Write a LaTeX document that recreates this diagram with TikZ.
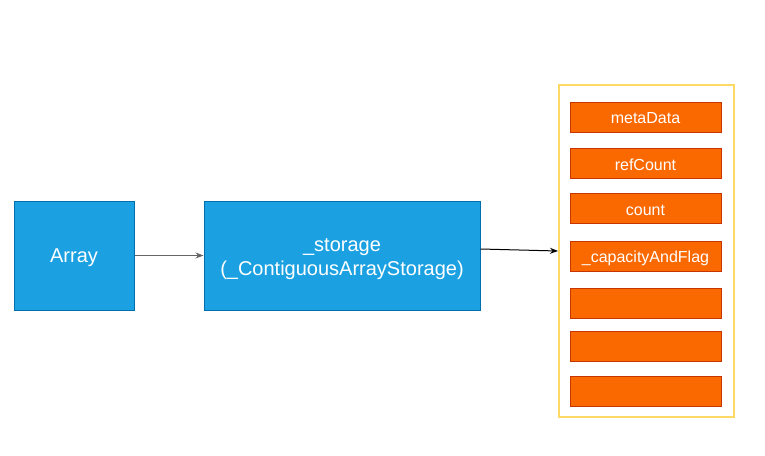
\documentclass[tikz,border=0pt]{standalone}
\usepackage{fontspec}
\setmainfont{Liberation Sans}
\usetikzlibrary{arrows.meta}

\definecolor{boxblue}{HTML}{1BA1E2}
\definecolor{lineblue}{HTML}{006EAF}
\definecolor{boxorange}{HTML}{FA6800}
\definecolor{lineorange}{HTML}{C73500}
\definecolor{frameyellow}{HTML}{FFD966}

\begin{document}
\begin{tikzpicture}[x=1pt,y=-1pt,
    bluebox/.style={draw=lineblue, fill=boxblue, text=white, line width=1pt,
        font=\fontsize{20}{23.5}\selectfont, align=center, inner sep=0pt},
    field/.style={draw=lineorange, fill=boxorange, text=white, line width=1pt,
        minimum width=151pt, minimum height=30pt, inner sep=0pt,
        text height=13pt, text depth=0pt, font=\fontsize{16}{18}\selectfont},
    link/.style={-{Stealth[length=8pt,width=6pt]}, line width=1pt}]
    \useasboundingbox (0,0) rectangle (765,455);
    \node[bluebox, minimum width=120pt, minimum height=109pt, text height=18.5pt] (array) at (74,255.5) {Array};
    \node[bluebox, minimum width=276pt, minimum height=109pt] (storage) at (342,255.5) {\rule{0pt}{20pt}\_storage\\(\_ContiguousArrayStorage)};
    \node[draw=frameyellow, line width=2pt, minimum width=175pt, minimum height=332pt] (frame) at (646.5,251) {};
    \node[field] (metadata) at (645.5,117) {metaData};
    \node[field] (refcount) at (645.5,163.5) {refCount};
    \node[field] (count) at (645.5,208.5) {count};
    \node[field] (capflag) at (645.5,256) {\_capacityAndFlag};
    \node[field] (slotA) at (645.5,303.5) {};
    \node[field] (slotB) at (645.5,346) {};
    \node[field] (slotC) at (645.5,391) {};
    \draw[link, draw=black!60] (array) -- (storage);
    \draw[link] ([yshift=6.5pt]storage.east) -- (frame.west);
\end{tikzpicture}
\end{document}
